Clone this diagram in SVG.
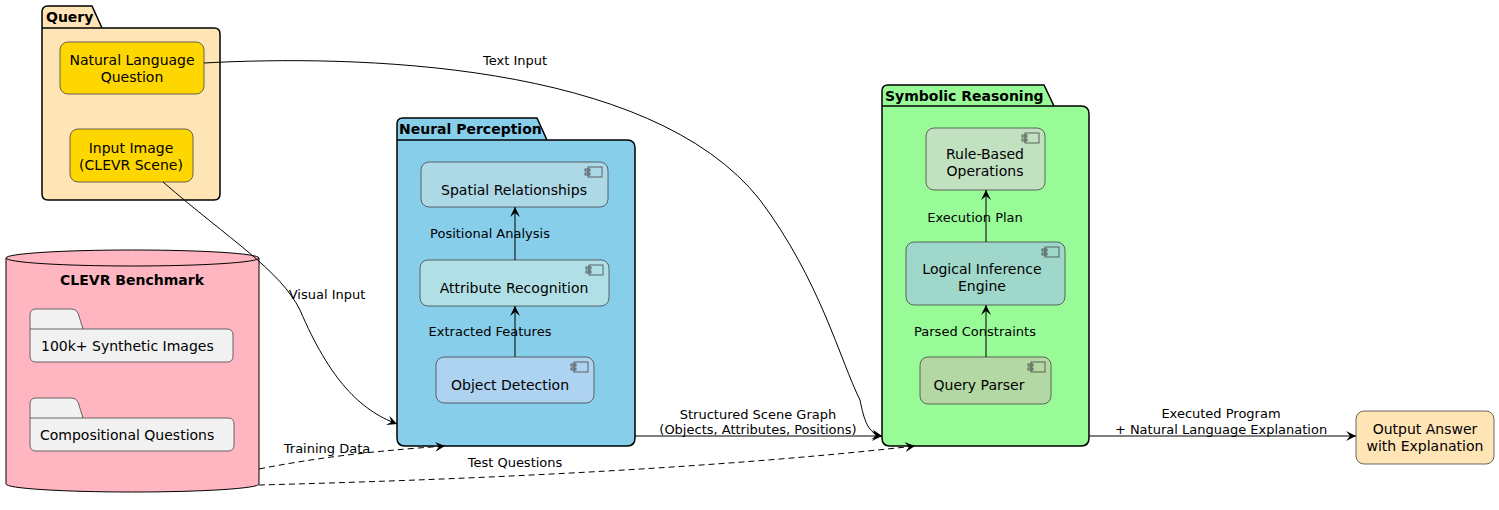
<svg xmlns="http://www.w3.org/2000/svg" width="1499" height="510" viewBox="0 0 1499 510">
<style>
text{font-family:"DejaVu Sans",sans-serif;font-size:13px;fill:#000}
.t{font-weight:bold;font-size:14px}
.c{text-anchor:middle}
.nt{font-size:14px}
.pk{stroke:#000;stroke-width:1.5}
.n{stroke:#444;stroke-width:0.8}
.e{fill:none;stroke:#000;stroke-width:1}
.d{stroke-dasharray:6,4}
.ic{fill:none;stroke:#444;stroke-width:0.8}
</style>
<defs>
<marker id="a" viewBox="0 0 10 10" refX="10" refY="5" markerWidth="10" markerHeight="10" orient="auto" markerUnits="userSpaceOnUse"><path d="M0,0 L10,5 L0,10 L4,5 Z" fill="#000"/></marker>
<g id="icon"><rect x="0" y="0" width="14" height="10" class="ic"/><rect x="-3" y="2" width="5" height="2" fill="#fff" class="ic"/><rect x="-3" y="6" width="5" height="2" fill="#fff" class="ic"/></g>
</defs>
<g id="query">
<path class="pk" fill="#FFE4B5" d="M42,28 V12 Q42,6 48,6 H92 L102,28 H214 Q220,28 220,34 V194 Q220,200 214,200 H48 Q42,200 42,194 Z"/>
<line x1="42" y1="28" x2="102" y2="28" stroke="#000" stroke-width="1.5"/>
<text x="46" y="22" class="t">Query</text>
</g>
<g id="nlq"><rect x="60" y="42" width="144" height="52" rx="8" fill="#FFD700" class="n"/><text x="132" y="65" class="c nt">Natural Language</text><text x="132" y="82" class="c nt">Question</text></g>
<g id="img"><rect x="70" y="129" width="123" height="53" rx="8" fill="#FFD700" class="n"/><text x="131" y="153" class="c nt">Input Image</text><text x="131" y="170" class="c nt">(CLEVR Scene)</text></g>
<g id="clevr">
<path d="M6,258 V484 A126.5,8 0 0 0 259,484 V258 A126.5,8 0 0 0 6,258 Z" fill="#FFB6C1" stroke="#000"/>
<path d="M6,258 A126.5,8 0 0 0 259,258" fill="none" stroke="#000"/>
<text x="132" y="285" class="t c">CLEVR Benchmark</text>
<path d="M30,329 V315 Q30,309 36,309 H72 Q76,309 78,313 L83,329 H227 Q233,329 233,335 V356 Q233,362 227,362 H36 Q30,362 30,356 Z" fill="#F1F1F1" class="n"/>
<line x1="30" y1="329" x2="83" y2="329" class="n"/>
<text x="41" y="351" class="nt">100k+ Synthetic Images</text>
<path d="M30,418 V404 Q30,398 36,398 H72 Q76,398 78,402 L83,418 H228 Q234,418 234,424 V445 Q234,451 228,451 H36 Q30,451 30,445 Z" fill="#F1F1F1" class="n"/>
<line x1="30" y1="418" x2="83" y2="418" class="n"/>
<text x="40" y="440" class="nt">Compositional Questions</text>
</g>
<g id="neural">
<path class="pk" fill="#87CEEB" d="M397,140 V124 Q397,118 403,118 H537 L547,140 H627 Q635,140 635,148 V438 Q635,446 627,446 H405 Q397,446 397,438 Z"/>
<line x1="397" y1="140" x2="547" y2="140" stroke="#000" stroke-width="1.5"/>
<text x="399" y="134" class="t">Neural Perception</text>
</g>
<g id="spatial"><rect x="421" y="162" width="187" height="45" rx="8" fill="#ADD8E6" class="n"/><use href="#icon" x="588" y="167"/><text x="514" y="195" class="c nt">Spatial Relationships</text></g>
<g id="attr"><rect x="420" y="260" width="189" height="46" rx="8" fill="#B0E0E6" class="n"/><use href="#icon" x="589" y="265"/><text x="514" y="293" class="c nt">Attribute Recognition</text></g>
<g id="obj"><rect x="436" y="357" width="158" height="46" rx="8" fill="#ADD3F0" class="n"/><use href="#icon" x="574" y="362"/><text x="510" y="390" class="c nt">Object Detection</text></g>
<g id="symbolic">
<path class="pk" fill="#98FB98" d="M882,106 V91 Q882,85 888,85 H1044 L1054,106 H1081 Q1089,106 1089,114 V438 Q1089,446 1081,446 H890 Q882,446 882,438 Z"/>
<line x1="882" y1="106" x2="1054" y2="106" stroke="#000" stroke-width="1.5"/>
<text x="885" y="101" class="t">Symbolic Reasoning</text>
</g>
<g id="rule"><rect x="926" y="128" width="119" height="62" rx="8" fill="#C1E1C1" class="n"/><use href="#icon" x="1025" y="133"/><text x="985" y="159" class="c nt">Rule-Based</text><text x="985" y="176" class="c nt">Operations</text></g>
<g id="logic"><rect x="906" y="242" width="159" height="63" rx="8" fill="#9FD8CB" class="n"/><use href="#icon" x="1045" y="247"/><text x="982" y="274" class="c nt">Logical Inference</text><text x="982" y="291" class="c nt">Engine</text></g>
<g id="parser"><rect x="920" y="357" width="131" height="47" rx="8" fill="#B4D8A4" class="n"/><use href="#icon" x="1031" y="362"/><text x="979" y="390" class="c nt">Query Parser</text></g>
<g id="output"><rect x="1356" y="411" width="138" height="53" rx="8" fill="#FFE4B5" class="n"/><text x="1425" y="434" class="c nt">Output Answer</text><text x="1425" y="451" class="c nt">with Explanation</text></g>
<g id="connectors">
<path class="e" marker-end="url(#a)" d="M204,63 C350,55 650,60 760,200 C820,280 840,360 860,400 C864,420 868,434 882,436"/>
<text x="515" y="65" class="c">Text Input</text>
<path class="e" marker-end="url(#a)" d="M163,182 C230,240 280,270 300,310 C330,380 360,410 397,424"/>
<text x="327" y="299" class="c">Visual Input</text>
<path class="e" marker-end="url(#a)" d="M515,260 V207"/>
<text x="490" y="238" class="c">Positional Analysis</text>
<path class="e" marker-end="url(#a)" d="M515,357 V306"/>
<text x="490" y="336" class="c">Extracted Features</text>
<path class="e" marker-end="url(#a)" d="M635,436 H882"/>
<text x="758" y="419" class="c">Structured Scene Graph</text>
<text x="758" y="434" class="c">(Objects, Attributes, Positions)</text>
<path class="e" marker-end="url(#a)" d="M986,357 V305"/>
<text x="975" y="336" class="c">Parsed Constraints</text>
<path class="e" marker-end="url(#a)" d="M986,242 V190"/>
<text x="975" y="222" class="c">Execution Plan</text>
<path class="e" marker-end="url(#a)" d="M1089,436 H1356"/>
<text x="1221" y="418" class="c">Executed Program</text>
<text x="1221" y="434" class="c">+ Natural Language Explanation</text>
<path class="e d" marker-end="url(#a)" d="M259,469 C330,455 390,450 445,446"/>
<text x="327" y="453" class="c">Training Data</text>
<path class="e d" marker-end="url(#a)" d="M259,485 C450,480 700,470 915,446"/>
<text x="515" y="467" class="c">Test Questions</text>
</g>
</svg>
